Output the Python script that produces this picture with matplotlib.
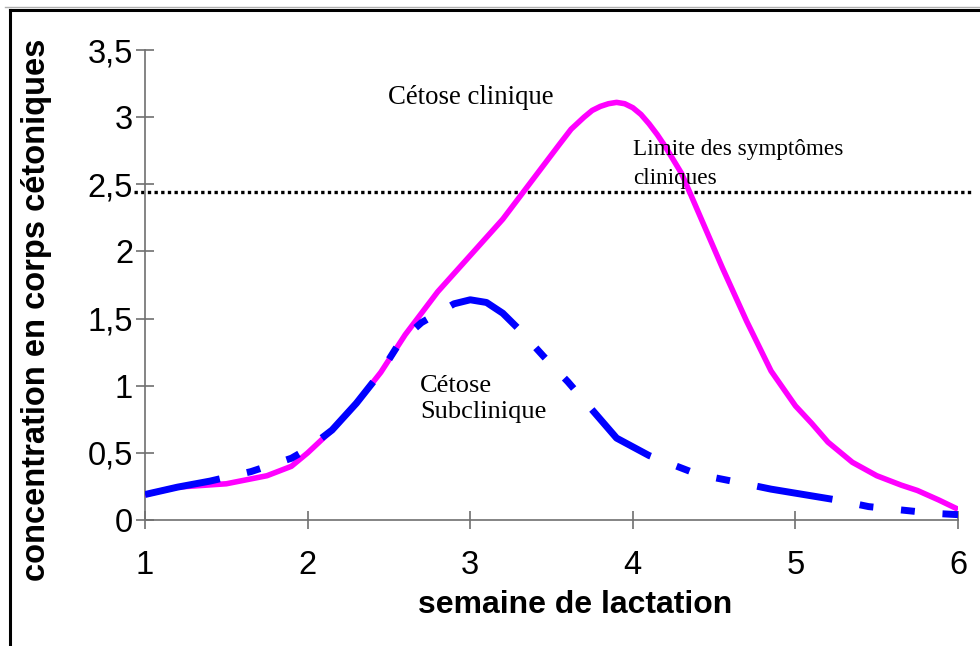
import matplotlib
matplotlib.use("Agg")
import matplotlib.pyplot as plt
from matplotlib.lines import Line2D

# ---- data ----
clin_x = [1.0, 1.2, 1.5, 1.75, 1.9, 2.0, 2.15, 2.3, 2.45, 2.6, 2.8, 3.0, 3.2, 3.35, 3.45, 3.55,
          3.62, 3.7, 3.75, 3.8, 3.85, 3.9, 3.95, 4.0, 4.05, 4.1, 4.15, 4.2, 4.3, 4.4, 4.55,
          4.7, 4.85, 5.0, 5.1, 5.2, 5.35, 5.5, 5.65, 5.75, 5.88, 6.0]
clin_y = [0.19, 0.245, 0.27, 0.33, 0.40, 0.50, 0.67, 0.87, 1.10, 1.38, 1.70, 1.97, 2.24, 2.48, 2.64, 2.80,
          2.91, 3.0, 3.05, 3.08, 3.10, 3.11, 3.10, 3.07, 3.02, 2.95, 2.87, 2.78, 2.58, 2.30, 1.88,
          1.48, 1.11, 0.85, 0.72, 0.58, 0.43, 0.33, 0.26, 0.22, 0.15, 0.08]

sub_x = [1.0, 1.2, 1.4, 1.65, 1.9, 2.0, 2.15, 2.3, 2.45, 2.57, 2.7, 2.8, 2.9, 3.0, 3.1,
         3.2, 3.3, 3.45, 3.6, 3.75, 3.9, 4.1, 4.4, 4.65, 4.85, 5.05, 5.25, 5.45, 5.65, 5.85, 6.0]
sub_y = [0.19, 0.245, 0.29, 0.36, 0.46, 0.53, 0.67, 0.87, 1.10, 1.33, 1.47, 1.54, 1.61, 1.64, 1.62,
         1.54, 1.42, 1.22, 1.03, 0.82, 0.61, 0.48, 0.34, 0.28, 0.23, 0.19, 0.15, 0.10, 0.075, 0.05, 0.04]

limit_value = 2.44
limit_span = [0.93, 6.1]

x_ticks = [1, 2, 3, 4, 5, 6]
x_ticklabels = ["1", "2", "3", "4", "5", "6"]
y_ticks = [0, 0.5, 1, 1.5, 2, 2.5, 3, 3.5]
y_ticklabels = ["0", "0,5", "1", "1,5", "2", "2,5", "3", "3,5"]

xlabel = "semaine de lactation"
ylabel = "concentration en corps cétoniques"
label_clin = "Cétose clinique"
label_limit = "Limite des symptômes\ncliniques"
label_sub = "Cétose\nSubclinique"

# ---- figure ----
fig = plt.figure(figsize=(9.8, 6.46), dpi=100)
ax = fig.add_axes([0.148, 0.195, 0.8296, 0.7276])

ax.plot(clin_x, clin_y, color="#FF00FF", lw=4.0, solid_capstyle="butt",
        solid_joinstyle="round", zorder=3)
ax.plot(sub_x, sub_y, color="#0000FF", lw=5.0, linestyle=(0, (11, 4, 2, 4, 2, 4)),
        dash_capstyle="butt", dash_joinstyle="round", zorder=4)
ax.plot(limit_span, [limit_value, limit_value], color="black", lw=2.4,
        linestyle=(0, (1, 1)), dash_capstyle="butt", clip_on=False, zorder=2)

ax.set_xlim(1, 6)
ax.set_ylim(0, 3.5)
ax.set_xticks(x_ticks)
ax.set_xticklabels(x_ticklabels)
ax.set_yticks(y_ticks)
ax.set_yticklabels(y_ticklabels)

for s in ["top", "right"]:
    ax.spines[s].set_visible(False)
for s in ["left", "bottom"]:
    ax.spines[s].set_color("#707070")
    ax.spines[s].set_linewidth(1.2)

ax.tick_params(axis="both", direction="inout", length=13, width=1.2, color="#707070",
               labelsize=23.5, labelcolor="black")
ax.tick_params(axis="y", pad=2)
ax.tick_params(axis="x", pad=15)
for lab in ax.get_xticklabels() + ax.get_yticklabels():
    lab.set_family("Liberation Sans")

ax.set_xlabel(xlabel, fontsize=23, fontweight="bold", family="Liberation Sans")
ax.xaxis.set_label_coords(0.529, -0.181)
ax.xaxis.label.set_va("center")
ax.set_ylabel(ylabel, fontsize=23.5, fontweight="bold", family="Liberation Sans")
ax.yaxis.set_label_coords(-0.133, 0.447)
ax.yaxis.label.set_va("center")

ax.text(2.494, 3.15, label_clin, fontsize=19.3, family="Liberation Serif",
        ha="left", va="center")
ax.text(4.0, 2.65, label_limit, fontsize=16.7, family="Liberation Serif",
        ha="left", va="center", linespacing=1.46)
ax.text(2.69, 0.90, label_sub, fontsize=19, family="Liberation Serif",
        ha="left", va="center", linespacing=1.25)

# figure frame (top and left borders)
fig.add_artist(Line2D([5 / 980, 1], [1 - 7 / 646, 1 - 7 / 646], transform=fig.transFigure,
                      color="#b0b0b0", lw=1))
fig.add_artist(Line2D([10 / 980, 1], [1 - 9.5 / 646, 1 - 9.5 / 646], transform=fig.transFigure,
                      color="black", lw=2.2))
fig.add_artist(Line2D([10 / 980, 10 / 980], [0, 1 - 9.5 / 646], transform=fig.transFigure,
                      color="black", lw=2.2))

fig.savefig("out.png", dpi=100, facecolor="white")
